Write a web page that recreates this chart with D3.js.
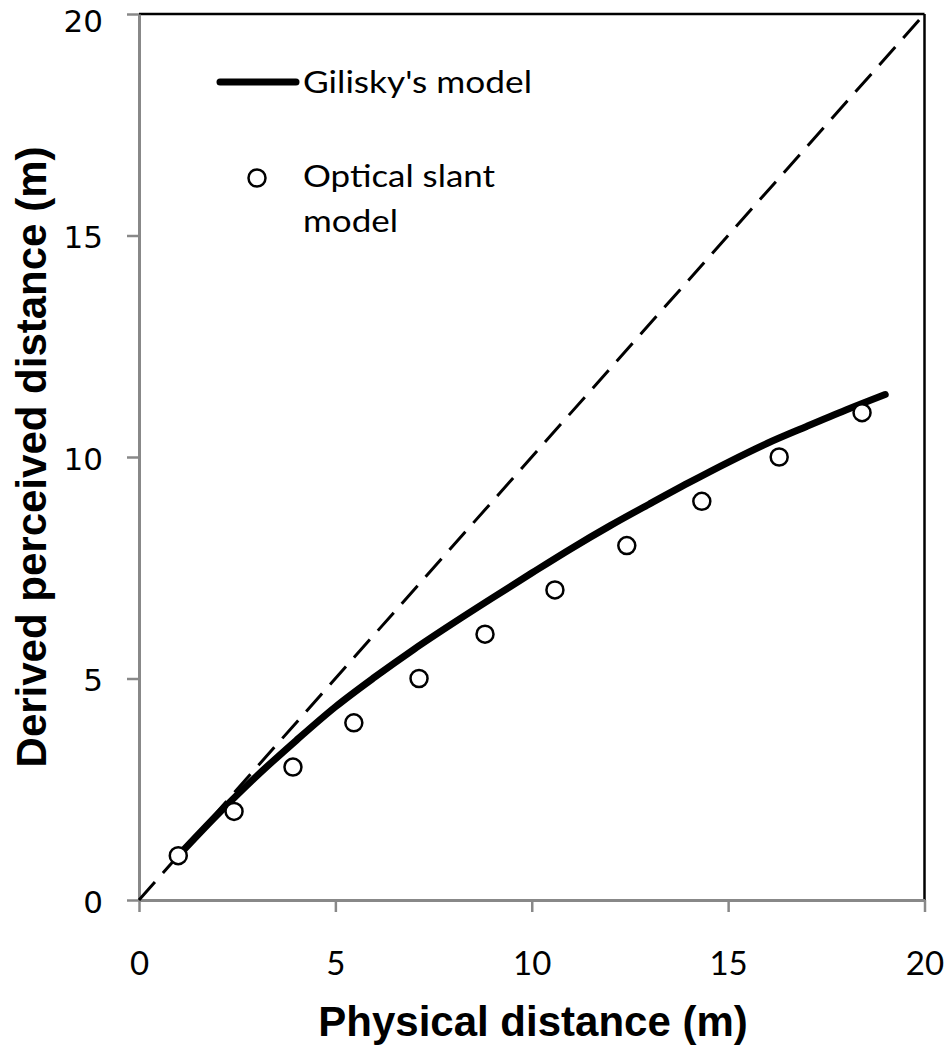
<!DOCTYPE html>
<html><head><meta charset="utf-8">
<script src="https://cdn.jsdelivr.net/npm/d3@7"></script>
<style>body{margin:0;background:#fff}svg{display:block}</style>
</head><body>
<script>
const xTicks = [0, 5, 10, 15, 20];
const yTicks = [0, 5, 10, 15, 20];
const slantX = [1.0, 2.42, 3.92, 5.47, 7.13, 8.81, 10.59, 12.42, 14.33, 16.3, 18.41];
const slantY = [1, 2, 3, 4, 5, 6, 7, 8, 9, 10, 11];
const giliskyX = [1, 2, 3, 4, 5, 6, 7, 8, 9, 10, 11, 12, 13, 14, 15, 16, 17, 18, 19];
const giliskyY = [1.0, 1.93, 2.8, 3.6, 4.36, 5.03, 5.66, 6.25, 6.82, 7.38, 7.93, 8.45, 8.94, 9.42, 9.88, 10.31, 10.69, 11.06, 11.41];
const identity = [0, 20];

const W = 944, H = 1050;
const svg = d3.select("body").append("svg").attr("width", W).attr("height", H);
const x = d3.scaleLinear().domain([0, 20]).range([139, 924.5]);
const y = d3.scaleLinear().domain([0, 20]).range([900, 14]);

// frame top/right
svg.append("line").attr("x1", x(0)).attr("x2", x(20)).attr("y1", y(20)).attr("y2", y(20)).attr("stroke", "#000").attr("stroke-width", 2.5);
svg.append("line").attr("x1", x(20)).attr("x2", x(20)).attr("y1", y(20)).attr("y2", y(0)).attr("stroke", "#000").attr("stroke-width", 2.5);

// axes
const gx = svg.append("g").attr("transform", `translate(0,${y(0)})`)
  .call(d3.axisBottom(x).tickValues(xTicks).tickSize(12).tickSizeOuter(0));
const gy = svg.append("g").attr("transform", `translate(${x(0)},0)`)
  .call(d3.axisLeft(y).tickValues(yTicks).tickSize(12).tickSizeOuter(0));
[gx, gy].forEach(g => {
  g.select(".domain").attr("stroke", "#888").attr("stroke-width", 3);
  g.selectAll(".tick line").attr("stroke", "#888").attr("stroke-width", 2.5);
});
gx.selectAll(".tick text").attr("font-family", "Lato, 'Open Sans', sans-serif").attr("font-size", 33)
  .attr("fill", "#000").attr("y", 75).attr("dy", null);
gy.selectAll(".tick text").attr("font-family", "'DejaVu Sans', Verdana, sans-serif").attr("font-size", 31)
  .attr("fill", "#000").attr("x", -36).attr("dy", d => d === 20 ? "0.56em" : "0.4em");

// dashed identity line
svg.append("path").datum(identity)
  .attr("d", d3.line().x(d => x(d)).y(d => y(d)))
  .attr("stroke", "#000").attr("stroke-width", 3).attr("stroke-dasharray", "24,12").attr("fill", "none");

// Gilisky curve
const gil = giliskyX.map((v, i) => [v, giliskyY[i]]);
svg.append("path").datum(gil)
  .attr("d", d3.line().curve(d3.curveMonotoneX).x(d => x(d[0])).y(d => y(d[1])))
  .attr("stroke", "#000").attr("stroke-width", 7).attr("stroke-linecap", "round").attr("stroke-linejoin", "round").attr("fill", "none");

// circles
svg.append("g").selectAll("circle").data(slantX.map((v, i) => [v, slantY[i]])).join("circle")
  .attr("cx", d => x(d[0])).attr("cy", d => y(d[1])).attr("r", 8.5)
  .attr("fill", "#fff").attr("stroke", "#000").attr("stroke-width", 2.5);

// legend
const lf = "Lato, 'Open Sans', sans-serif";
svg.append("line").attr("x1", 220).attr("x2", 296).attr("y1", 82).attr("y2", 82)
  .attr("stroke", "#000").attr("stroke-width", 7).attr("stroke-linecap", "round");
svg.append("text").attr("x", 303).attr("y", 93).attr("font-family", lf).attr("font-size", 30)
  .attr("textLength", 229).attr("lengthAdjust", "spacingAndGlyphs").text("Gilisky's model");
svg.append("circle").attr("cx", 257).attr("cy", 178).attr("r", 8.5).attr("fill", "#fff").attr("stroke", "#000").attr("stroke-width", 2.5);
svg.append("text").attr("x", 303).attr("y", 187).attr("font-family", lf).attr("font-size", 30)
  .attr("textLength", 192).attr("lengthAdjust", "spacingAndGlyphs").text("Optical slant");
svg.append("text").attr("x", 303).attr("y", 232).attr("font-family", lf).attr("font-size", 30)
  .attr("textLength", 95).attr("lengthAdjust", "spacingAndGlyphs").text("model");

// axis titles
const tf = "'Liberation Sans', Arial, sans-serif";
svg.append("text").attr("x", 533).attr("y", 1036).attr("text-anchor", "middle")
  .attr("font-family", tf).attr("font-weight", "bold").attr("font-size", 42).text("Physical distance (m)");
svg.append("text").attr("transform", `translate(46,457) rotate(-90)`).attr("text-anchor", "middle")
  .attr("font-family", tf).attr("font-weight", "bold").attr("font-size", 42).text("Derived perceived distance (m)");
</script>
</body></html>
